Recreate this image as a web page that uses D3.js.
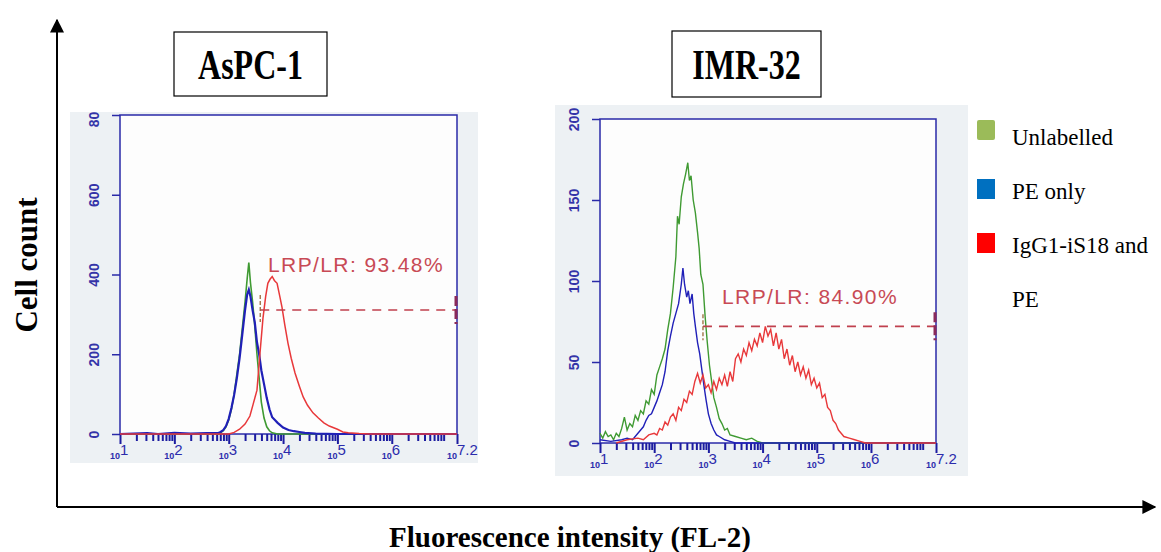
<!DOCTYPE html>
<html>
<head>
<meta charset="utf-8">
<script src="https://cdn.jsdelivr.net/npm/d3@7"></script>
<style>
  body { margin: 0; background: #fff; }
</style>
</head>
<body>
<script>
// decade exponents on the FL-2 axis and their labels
const xTickExps = [1, 2, 3, 4, 5, 6, 7.2];
const xTickLabels = ["1", "2", "3", "4", "5", "6", "7.2"];

const seriesNames = ["Unlabelled", "PE only", "IgG1-iS18 and PE"];
const legendLines = [["Unlabelled"], ["PE only"], ["IgG1-iS18 and", "PE"]];
const seriesColors = ["#9bbb59", "#0070c0", "#ff0000"];
const curveColors = ["#3f9a32", "#2020b8", "#e8383a"];

// AsPC-1 : [log10 intensity, count]
const aspcYTicks = [0, 200, 400, 600, 800];
const aspcUnlabelled = [[1,0],[2.8,0],[2.85,3],[2.9,8],[2.95,18],[3.0,35],[3.05,62],[3.1,100],[3.15,150],[3.2,200],[3.25,265],[3.3,330],[3.34,390],[3.37,430],[3.4,380],[3.44,330],[3.48,270],[3.52,200],[3.56,140],[3.6,80],[3.65,40],[3.7,18],[3.75,8],[3.8,3],[3.9,0],[7.2,0]];
const aspcPE = [[1,0],[1.5,2],[1.7,0],[2.0,3],[2.3,1],[2.6,2],[2.8,2],[2.85,5],[2.9,10],[2.95,20],[3.0,38],[3.05,65],[3.1,98],[3.15,140],[3.2,190],[3.25,250],[3.3,310],[3.34,350],[3.37,362],[3.4,345],[3.44,310],[3.48,280],[3.52,230],[3.56,200],[3.6,160],[3.65,125],[3.7,90],[3.75,62],[3.8,42],[3.85,35],[3.9,28],[4.0,16],[4.1,10],[4.2,7],[4.3,5],[4.4,3],[4.6,1],[5,0],[7.2,0]];
const aspcIgG = [[1,0],[3.0,0],[3.1,4],[3.2,12],[3.3,25],[3.39,45],[3.45,75],[3.52,110],[3.58,210],[3.63,290],[3.68,345],[3.72,378],[3.76,388],[3.8,395],[3.84,385],[3.89,378],[3.94,345],[3.98,318],[4.03,275],[4.09,228],[4.15,190],[4.22,153],[4.3,120],[4.37,93],[4.45,72],[4.55,53],[4.65,40],[4.75,28],[4.85,20],[5.0,12],[5.1,5],[5.2,3],[5.4,1],[5.6,0],[7.2,0]];
const aspcGate = { start: 3.58, level: 311, label: "LRP/LR: 93.48%" };

// IMR-32 : [log10 intensity, count]
const imrYTicks = [0, 50, 100, 150, 200];
const imrUnlabelled = [[1.0,6],[1.05,3],[1.1,7],[1.15,4],[1.2,5],[1.25,2],[1.3,6],[1.35,4],[1.4,9],[1.45,16],[1.5,8],[1.55,12],[1.6,10],[1.65,17],[1.7,14],[1.75,20],[1.8,18],[1.85,26],[1.9,24],[1.95,33],[2.0,30],[2.05,42],[2.1,47],[2.15,52],[2.2,58],[2.25,70],[2.3,80],[2.35,96],[2.4,115],[2.43,140],[2.46,135],[2.5,152],[2.54,160],[2.58,166],[2.62,173],[2.65,162],[2.68,165],[2.72,150],[2.76,142],[2.8,130],[2.83,120],[2.86,104],[2.9,98],[2.94,78],[2.98,62],[3.02,48],[3.06,38],[3.1,28],[3.15,22],[3.2,15],[3.25,12],[3.3,8],[3.35,9],[3.4,5],[3.5,4],[3.6,3],[3.7,2],[3.8,3],[3.9,1],[4.0,0],[7.2,0]];
const imrPE = [[1.0,2],[1.2,1],[1.4,2],[1.5,3],[1.6,2],[1.7,6],[1.75,8],[1.8,10],[1.85,14],[1.9,17],[1.95,18],[2.0,22],[2.05,26],[2.1,31],[2.15,36],[2.2,44],[2.25,57],[2.3,66],[2.35,74],[2.4,80],[2.45,86],[2.5,98],[2.53,108],[2.56,98],[2.6,90],[2.63,94],[2.66,86],[2.7,92],[2.73,80],[2.76,72],[2.8,62],[2.84,55],[2.88,45],[2.92,35],[2.96,26],[3.0,18],[3.05,12],[3.1,8],[3.15,5],[3.2,4],[3.3,2],[3.4,1],[3.5,0],[7.2,0]];
const imrIgG = [[1.3,0],[1.5,2],[1.7,3],[1.8,2],[1.9,5],[2.0,6],[2.05,5],[2.1,9],[2.15,8],[2.2,13],[2.25,11],[2.3,16],[2.35,18],[2.4,14],[2.45,22],[2.5,20],[2.55,27],[2.6,25],[2.65,32],[2.7,30],[2.75,38],[2.8,43],[2.85,37],[2.9,42],[2.95,34],[3.0,36],[3.05,31],[3.1,38],[3.15,33],[3.2,40],[3.25,36],[3.3,42],[3.35,35],[3.4,44],[3.45,38],[3.5,52],[3.55,55],[3.6,50],[3.65,58],[3.7,54],[3.75,62],[3.8,57],[3.85,64],[3.9,60],[3.95,68],[4.0,62],[4.05,72],[4.1,66],[4.15,70],[4.2,60],[4.25,68],[4.3,58],[4.35,64],[4.4,52],[4.45,58],[4.5,48],[4.55,54],[4.6,44],[4.65,50],[4.7,42],[4.75,47],[4.8,40],[4.85,45],[4.9,36],[4.95,40],[5.0,34],[5.05,37],[5.1,28],[5.15,30],[5.2,22],[5.25,20],[5.3,14],[5.35,12],[5.4,8],[5.45,6],[5.5,4],[5.6,3],[5.7,2],[5.8,1],[5.9,0],[7.2,0]];
const imrGate = { start: 2.9, level: 72, label: "LRP/LR: 84.90%" };

const width = 1161;
const height = 552;
const axisBlue = "#2a2aa8";
const tickBlue = "#1c1ca0";
const gateRed = "#c0404e";

const svg = d3
  .select("body")
  .append("svg")
  .attr("width", width)
  .attr("height", height);

const defs = svg.append("defs");
defs
  .append("marker")
  .attr("id", "arrow")
  .attr("viewBox", "0 0 10 10")
  .attr("refX", 9)
  .attr("refY", 5)
  .attr("markerWidth", 7)
  .attr("markerHeight", 7)
  .attr("markerUnits", "strokeWidth")
  .attr("orient", "auto")
  .append("path")
  .attr("d", "M0,0 L10,5 L0,10 Z")
  .attr("fill", "#000");

// outer frame axes
svg
  .append("path")
  .attr("d", "M57,507 V20")
  .attr("stroke", "#000")
  .attr("stroke-width", 2)
  .attr("marker-end", "url(#arrow)");
svg
  .append("path")
  .attr("d", "M57,507 H1155")
  .attr("stroke", "#000")
  .attr("stroke-width", 2)
  .attr("marker-end", "url(#arrow)");

svg
  .append("text")
  .attr("transform", "translate(37 265) rotate(-90)")
  .attr("text-anchor", "middle")
  .attr("font-family", "Liberation Serif")
  .attr("font-weight", "bold")
  .attr("font-size", 31)
  .text("Cell count");

svg
  .append("text")
  .attr("x", 570)
  .attr("y", 547)
  .attr("text-anchor", "middle")
  .attr("font-family", "Liberation Serif")
  .attr("font-weight", "bold")
  .attr("font-size", 29)
  .text("Fluorescence intensity (FL-2)");

// minor log ticks within each decade
const minorTicks = [];
for (let d = 1; d < 8; d++) {
  for (let k = 2; k <= 9; k++) {
    const v = d + Math.log10(k);
    if (v < 7.2) minorTicks.push(v);
  }
}

const drawPanel = (p) => {
  const x = d3.scaleLinear().domain([1, 7.2]).range([p.left, p.right]);
  const y = d3.scaleLinear().domain([0, p.yMax]).range([p.bottom, p.top]);

  const clipId = `clip-${p.id}`;
  defs
    .append("clipPath")
    .attr("id", clipId)
    .append("rect")
    .attr("x", p.bg[0])
    .attr("y", p.bg[1])
    .attr("width", p.bg[2])
    .attr("height", p.bg[3]);

  const g = svg.append("g").attr("clip-path", `url(#${clipId})`);

  g.append("rect")
    .attr("x", p.bg[0])
    .attr("y", p.bg[1])
    .attr("width", p.bg[2])
    .attr("height", p.bg[3])
    .attr("fill", "#edf1f4");

  g.append("rect")
    .attr("x", p.left)
    .attr("y", p.top)
    .attr("width", p.right - p.left)
    .attr("height", p.bottom - p.top)
    .attr("fill", "#fdfdfd")
    .attr("stroke", axisBlue)
    .attr("stroke-width", 1.5);

  const yAxis = g
    .append("g")
    .attr("transform", `translate(${p.left},0)`)
    .call(d3.axisLeft(y).tickValues(p.yTicks).tickSize(8));
  yAxis.select(".domain").remove();
  yAxis.selectAll("line").attr("stroke", axisBlue).attr("stroke-width", 1.5);
  yAxis
    .selectAll("text")
    .attr("transform", "rotate(-90)")
    .attr("x", 0)
    .attr("y", -21)
    .attr("dy", 0)
    .attr("text-anchor", "middle")
    .attr("fill", "#3434a8")
    .attr("font-size", 14)
    .attr("font-weight", "bold")
    .attr("font-family", "Liberation Sans");

  const minorAxis = g
    .append("g")
    .attr("transform", `translate(0,${p.bottom})`)
    .call(d3.axisBottom(x).tickValues(minorTicks).tickSize(7).tickFormat(""));
  minorAxis.select(".domain").remove();
  minorAxis.selectAll("line").attr("stroke", tickBlue).attr("stroke-width", 2);

  const majorAxis = g
    .append("g")
    .attr("transform", `translate(0,${p.bottom})`)
    .call(d3.axisBottom(x).tickValues(xTickExps).tickSize(10).tickFormat(""));
  majorAxis.select(".domain").remove();
  majorAxis.selectAll("line").attr("stroke", tickBlue).attr("stroke-width", 2);

  const labels = g
    .append("g")
    .selectAll("text")
    .data(xTickExps)
    .join("text")
    .attr("x", (d) => x(d) - 10)
    .attr("y", p.bottom + 25)
    .attr("fill", "#2c2cac")
    .attr("font-family", "Liberation Sans");
  labels.append("tspan").attr("font-size", 9).attr("font-weight", "bold").text("10");
  labels
    .append("tspan")
    .attr("font-size", 15)
    .attr("dy", -4)
    .text((d, i) => xTickLabels[i]);

  const line = d3
    .line()
    .x((d) => x(d[0]))
    .y((d) => y(d[1]));

  g.append("g")
    .selectAll("path")
    .data(p.series)
    .join("path")
    .attr("d", line)
    .attr("fill", "none")
    .attr("stroke", (d, i) => curveColors[i])
    .attr("stroke-width", (d, i) => p.lineWidths[i]);

  // gate marker
  const gy = y(p.gate.level);
  g.append("path")
    .attr("d", `M${x(p.gate.start)},${gy} H${p.right - 1}`)
    .attr("stroke", gateRed)
    .attr("stroke-width", 1.6)
    .attr("stroke-dasharray", "9 7")
    .attr("fill", "none");
  g.append("path")
    .attr("d", `M${x(p.gate.start)},${gy - p.gateTick[0]} V${gy + p.gateTick[1]}`)
    .attr("stroke", "#9a6a3a")
    .attr("stroke-width", 1.3)
    .attr("stroke-dasharray", "4 2");
  g.append("path")
    .attr("d", `M${p.right - 1},${gy - 14} V${gy + 14}`)
    .attr("stroke", "#8a2a5a")
    .attr("stroke-width", 3)
    .attr("stroke-dasharray", "10 3");

  g.append("text")
    .attr("x", p.labelPos[0])
    .attr("y", p.labelPos[1])
    .attr("fill", "#c84a55")
    .attr("font-family", "Liberation Sans")
    .attr("font-size", 21)
    .attr("letter-spacing", 1.4)
    .text(p.gate.label);

  // title box
  svg
    .append("rect")
    .attr("x", p.titleBox[0])
    .attr("y", p.titleBox[1])
    .attr("width", p.titleBox[2])
    .attr("height", p.titleBox[3])
    .attr("fill", "#fff")
    .attr("stroke", "#000")
    .attr("stroke-width", 1.2);
  svg
    .append("text")
    .attr(
      "transform",
      `translate(${p.titleBox[0] + p.titleBox[2] / 2} ${p.titleBox[1] + p.titleBox[3] / 2 + 15}) scale(1 1.3)`
    )
    .attr("text-anchor", "middle")
    .attr("font-family", "Liberation Serif")
    .attr("font-weight", "bold")
    .attr("font-size", 32)
    .text(p.title);
};

drawPanel({
  id: "aspc",
  title: "AsPC-1",
  titleBox: [174, 32, 153, 64],
  bg: [70, 112, 408, 351],
  left: 120,
  right: 457,
  top: 115,
  bottom: 434,
  yMax: 800,
  yTicks: aspcYTicks,
  series: [aspcUnlabelled, aspcPE, aspcIgG],
  lineWidths: [1.6, 2.2, 1.5],
  gate: aspcGate,
  gateTick: [15, 12],
  labelPos: [268, 272],
});

drawPanel({
  id: "imr",
  title: "IMR-32",
  titleBox: [672, 31, 149, 66],
  bg: [555, 105, 413, 371],
  left: 600,
  right: 936,
  top: 119,
  bottom: 443,
  yMax: 200,
  yTicks: imrYTicks,
  series: [imrUnlabelled, imrPE, imrIgG],
  lineWidths: [1.4, 1.4, 1.4],
  gate: imrGate,
  gateTick: [12, 14],
  labelPos: [722, 304],
});

// legend
const legendRectY = [120, 179, 233];
const legendBaseY = [145, 199, 253];

const legend = svg
  .append("g")
  .selectAll("g")
  .data(seriesNames)
  .join("g")
  .attr("transform", (d, i) => `translate(977 ${legendRectY[i]})`);

legend
  .append("rect")
  .attr("width", 18)
  .attr("height", 20)
  .attr("rx", (d, i) => (i === 0 ? 2 : 0))
  .attr("fill", (d, i) => seriesColors[i]);

legend
  .append("text")
  .attr("y", (d, i) => legendBaseY[i] - legendRectY[i])
  .attr("font-family", "Liberation Serif")
  .attr("font-size", 23)
  .selectAll("tspan")
  .data((d, i) => legendLines[i])
  .join("tspan")
  .attr("x", 35)
  .attr("dy", (d, j) => (j === 0 ? 0 : 54))
  .text((d) => d);
</script>
</body>
</html>
